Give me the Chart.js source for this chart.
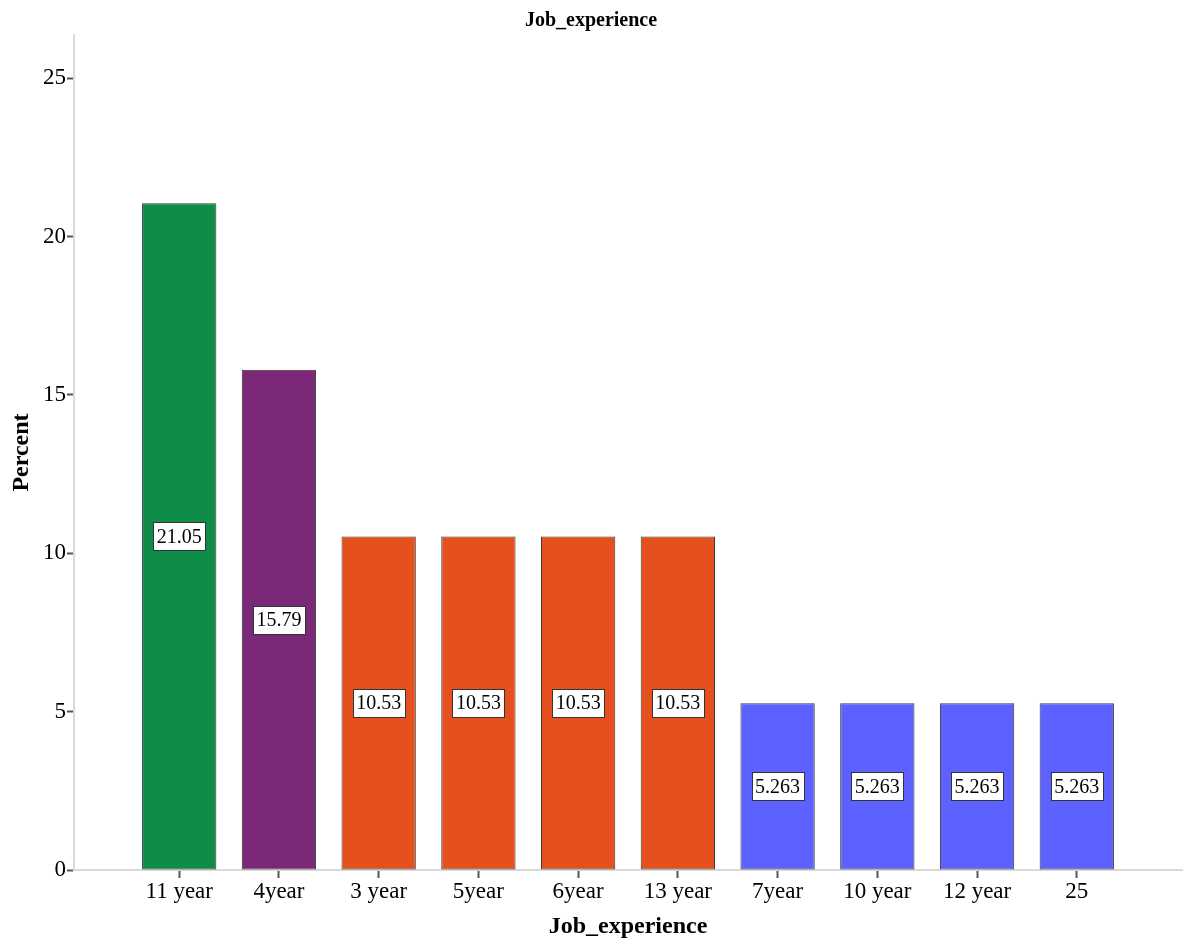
<!DOCTYPE html>
<html>
<head>
<meta charset="utf-8">
<script src="https://cdn.jsdelivr.net/npm/chart.js@4.4.1/dist/chart.umd.min.js"></script>
<style>
  html, body { margin: 0; padding: 0; background: #ffffff; }
  #wrap { width: 1190px; height: 942px; position: relative; }
</style>
</head>
<body>
<div id="wrap"><canvas id="chart" width="1190" height="942"></canvas></div>
<script>
// Job experience categories and their share of respondents (%)
const categories = ['11 year', '4year', '3 year', '5year', '6year', '13 year', '7year', '10 year', '12 year', '25'];
const percents = [21.05, 15.79, 10.53, 10.53, 10.53, 10.53, 5.263, 5.263, 5.263, 5.263];
const valueLabels = ['21.05', '15.79', '10.53', '10.53', '10.53', '10.53', '5.263', '5.263', '5.263', '5.263'];
const barColors = ['#0f8c48', '#7b2878', '#e6501f', '#e6501f', '#e6501f', '#e6501f', '#5c61ff', '#5c61ff', '#5c61ff', '#5c61ff'];
const yTicks = [0, 5, 10, 15, 20, 25];

const SERIF = '"Liberation Serif", "Times New Roman", serif';

// Boxed value label centred in each bar
const barValueBoxes = {
  id: 'barValueBoxes',
  afterDatasetsDraw(chart) {
    const ctx = chart.ctx;
    const meta = chart.getDatasetMeta(0);
    ctx.save();
    ctx.font = '20px ' + SERIF;
    ctx.textAlign = 'center';
    ctx.textBaseline = 'middle';
    meta.data.forEach((bar, i) => {
      const text = valueLabels[i];
      const cx = bar.x;
      const cy = (bar.y + bar.base) / 2;
      const w = Math.round(ctx.measureText(text).width + 7);
      const h = 28;
      const x0 = Math.round(cx - w / 2) + 0.5;
      const y0 = Math.round(cy - h / 2) + 0.5;
      ctx.fillStyle = '#ffffff';
      ctx.fillRect(x0, y0, w, h);
      ctx.strokeStyle = '#333333';
      ctx.lineWidth = 1;
      ctx.strokeRect(x0, y0, w, h);
      ctx.fillStyle = '#000000';
      ctx.fillText(text, cx, cy + 1);
    });
    ctx.restore();
  }
};

new Chart(document.getElementById('chart'), {
  type: 'bar',
  data: {
    datasets: [{
      data: percents.map((v, i) => ({ x: i, y: v })),
      backgroundColor: barColors,
      borderColor: '#3a3a3a',
      borderWidth: 1,
      borderSkipped: false,
      barPercentage: 0.745,
      categoryPercentage: 1.0
    }]
  },
  options: {
    responsive: false,
    animation: false,
    layout: { padding: { left: 0, right: 8, top: 0, bottom: 0 } },
    plugins: {
      legend: { display: false },
      tooltip: { enabled: false },
      title: {
        display: true,
        text: 'Job_experience',
        color: '#000000',
        font: { family: SERIF, size: 20, weight: 'bold' },
        padding: { top: 9, bottom: 2 }
      }
    },
    scales: {
      x: {
        type: 'linear',
        offset: false,
        min: -1.055,
        max: 10.055,
        afterBuildTicks(scale) {
          scale.ticks = categories.map((_, i) => ({ value: i }));
        },
        afterFit(scale) { scale.height = 72; },
        ticks: {
          autoSkip: false,
          maxRotation: 0,
          padding: 0,
          color: '#000000',
          font: { family: SERIF, size: 23 },
          callback: (v) => categories[v]
        },
        grid: {
          offset: false,
          drawOnChartArea: false,
          drawTicks: true,
          tickLength: 8,
          tickColor: '#555555',
          tickWidth: 2
        },
        border: { display: true, color: '#d9d9d9', width: 2 },
        title: {
          display: true,
          text: 'Job_experience',
          color: '#000000',
          font: { family: SERIF, size: 24, weight: 'bold' },
          padding: { top: 0, bottom: 0.6 }
        }
      },
      y: {
        min: 0,
        max: 26.36,
        afterBuildTicks(scale) {
          scale.ticks = yTicks.map(v => ({ value: v }));
        },
        afterFit(scale) { scale.width = 74; },
        ticks: {
          padding: 1,
          color: '#000000',
          font: { family: SERIF, size: 23 }
        },
        grid: {
          drawOnChartArea: false,
          drawTicks: true,
          tickLength: 7,
          tickColor: '#555555',
          tickWidth: 2
        },
        border: { display: true, color: '#d9d9d9', width: 2 },
        title: {
          display: true,
          text: 'Percent',
          color: '#000000',
          font: { family: SERIF, size: 24, weight: 'bold' },
          padding: { top: 7.6, bottom: 0 }
        }
      }
    }
  },
  plugins: [barValueBoxes]
});
</script>
</body>
</html>
